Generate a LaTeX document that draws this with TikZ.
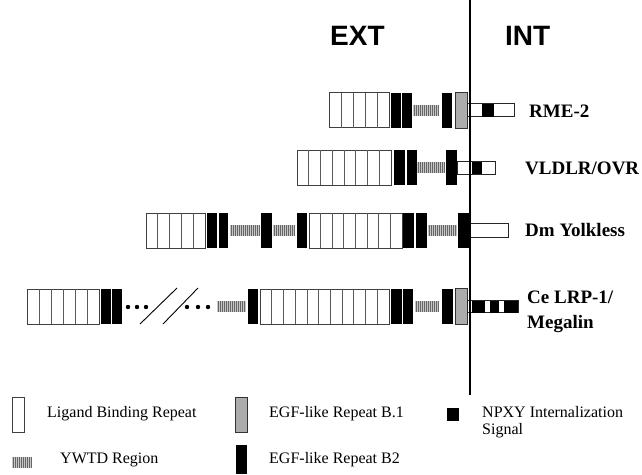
\documentclass[tikz,border=0pt]{standalone}
\usepackage{fontspec}
\setmainfont{Liberation Serif}
\newfontfamily\hdfont{Liberation Sans}
\tikzset{
 lig/.style={draw=black!75, line width=0.8pt, fill=white},
 ligsep/.style={draw=black!65, line width=0.8pt},
 egfb/.style={fill=black},
 egfg/.style={draw=black!80, line width=0.8pt, fill=gray!65},
 ywbase/.style={fill=gray!45},
 ywline/.style={draw=black!60, line width=0.9pt},
 tailw/.style={draw=black!85, line width=0.9pt, fill=white},
 memb/.style={line width=1.6pt},
 dotst/.style={fill=black},
 slashst/.style={line width=0.9pt},
 ttl/.style={font=\hdfont\bfseries\fontsize{28}{30}\selectfont, anchor=base west, inner sep=0},
 lab/.style={font=\bfseries\fontsize{19}{21}\selectfont, anchor=base west, inner sep=0},
 leg/.style={font=\fontsize{16}{16}\selectfont, anchor=base west, inner sep=0},
}
\newcommand\LigBox[4]{%
 \draw[lig] (#1,#4-17.5) rectangle (#2,#4+17.5);
 \pgfmathsetmacro\cellw{(#2-#1)/#3}
 \foreach \k in {1,...,\the\numexpr#3-1\relax}{\draw[ligsep] (#1+\k*\cellw,#4-17.5) -- ++(0,35);}
}
\newcommand\BlkBox[3]{\fill[egfb] (#1,#3-17.5) rectangle (#2,#3+17.5);}
\newcommand\GryBox[3]{\draw[egfg] (#1,#3-18) rectangle (#2,#3+18);}
\newcommand\Ywtd[3]{%
 \fill[ywbase] (#1,#3-5.5) rectangle (#2,#3+5.5);
 \pgfmathsetmacro\ywn{int((#2-#1)/2)}
 \foreach \k in {1,...,\ywn}{\draw[ywline] (#1+\k*2-1,#3-5.5) -- ++(0,11);}
}
\begin{document}
\begin{tikzpicture}[x=1pt,y=-1pt]
\useasboundingbox[fill=white] (0,0) rectangle (642,474);
% titles
\node[ttl] (ext) at (330,45) {EXT};
\node[ttl] (int) at (505,45) {INT};
% row 1 RME-2
\LigBox{329}{389}{5}{110}
\BlkBox{391}{401}{110}\BlkBox{402}{412}{110}
\Ywtd{413}{439}{110}
\BlkBox{442}{452}{110}
\GryBox{455}{467}{110}
\draw[tailw] (467,103.5) rectangle (514,116.5);
\fill (482,103.5) rectangle (494,116.5);
% row 2 VLDLR/OVR
\LigBox{297}{391}{8}{167.5}
\BlkBox{394}{405}{167.5}\BlkBox{407}{417}{167.5}
\Ywtd{417}{445}{167.5}
\BlkBox{446}{457}{167.5}
\draw[tailw] (457,161.5) rectangle (495,174);
\fill (472,161.5) rectangle (482,174);
% row 3 Dm Yolkless
\LigBox{146}{205}{5}{230.5}
\BlkBox{207}{217}{230.5}\BlkBox{219}{228}{230.5}
\Ywtd{230}{260}{230.5}
\BlkBox{261}{272}{230.5}
\Ywtd{273}{295}{230.5}
\BlkBox{297}{307}{230.5}
\LigBox{309}{402}{8}{230.5}
\BlkBox{403}{414}{230.5}\BlkBox{416}{427}{230.5}
\Ywtd{428}{457}{230.5}
\BlkBox{458}{470}{230.5}
\draw[tailw] (470,223.5) rectangle (508,237);
% row 4 Ce LRP-1/Megalin
\LigBox{27}{99}{6}{306.5}
\BlkBox{101}{111}{306.5}\BlkBox{112}{122}{306.5}
\foreach \dx in {128,137,146,187,198,208}{\fill[dotst] (\dx,307) circle (2.2);}
\draw[slashst] (140,324) -- (177,288);
\draw[slashst] (163,324) -- (198,288);
\Ywtd{217}{246}{306.5}
\BlkBox{248}{258}{306.5}
\LigBox{260}{389}{11}{306.5}
\BlkBox{391}{402}{306.5}\BlkBox{403}{413}{306.5}
\Ywtd{415}{439}{306.5}
\BlkBox{442}{453}{306.5}
\GryBox{455}{467}{306.5}
\draw[tailw] (467,300.5) rectangle (518,312.5);
\fill (472,300.5) rectangle (485,312.5);
\fill (490,300.5) rectangle (499,312.5);
\fill (504,300.5) rectangle (518,312.5);
% membrane
\draw[memb] (470,0) -- (470,395);
% labels
\node[lab] (rme) at (529,117) {RME-2};
\node[lab] (vldlr) at (525,174) {VLDLR/OVR};
\node[lab] (dm) at (525,236) {Dm Yolkless};
\node[lab] (ce1) at (527,303) {Ce LRP-1/};
\node[lab] (ce2) at (527,328) {Megalin};
% legend
\draw[lig] (12,397) rectangle (24,432);
\node[leg] (lg1) at (47,417) {Ligand Binding Repeat};
\draw[egfg] (235,397) rectangle (247,432);
\node[leg] (lg2) at (269,417) {EGF-like Repeat B.1};
\fill (447,408) rectangle (459,421);
\node[leg] (lg3) at (482,417) {NPXY Internalization};
\node[leg] (lg3b) at (482,434) {Signal};
\Ywtd{12}{32}{462}
\node[leg] (lg4) at (60,463) {YWTD Region};
\fill (236,445) rectangle (247,474);
\node[leg] (lg5) at (269,463) {EGF-like Repeat B2};
\end{tikzpicture}
\end{document}
